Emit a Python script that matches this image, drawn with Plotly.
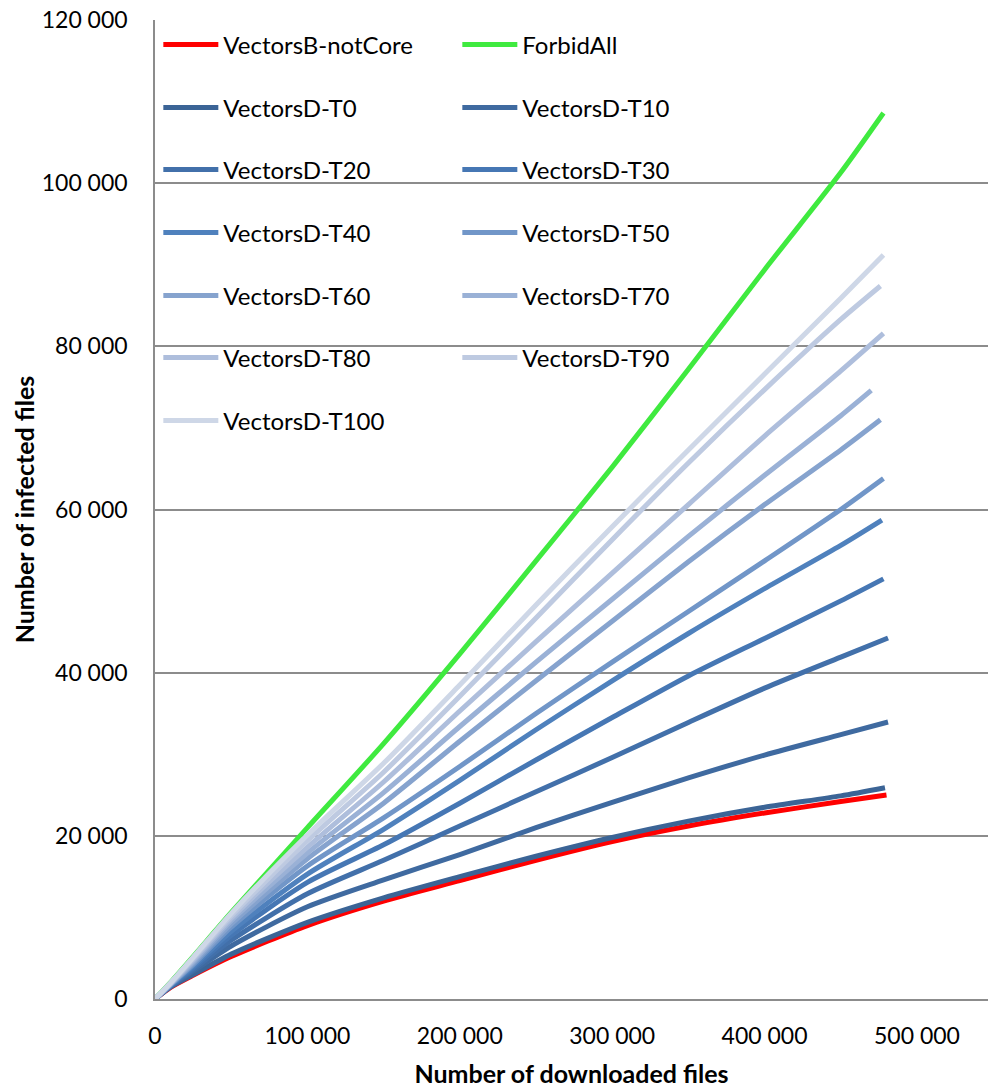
import plotly.graph_objects as go

# ---------------- data ----------------
downloaded = [0, 10000, 25000, 50000, 100000, 150000, 200000, 250000, 300000, 350000, 400000, 450000]

series_names = ["VectorsB-notCore", "ForbidAll", "VectorsD-T0", "VectorsD-T10", "VectorsD-T20",
                "VectorsD-T30", "VectorsD-T40", "VectorsD-T50", "VectorsD-T60", "VectorsD-T70",
                "VectorsD-T80", "VectorsD-T90", "VectorsD-T100"]

b_notcore = [0, 1400, 2900, 5200, 9000, 12000, 14500, 17000, 19300, 21200, 22800, 24200]
forbid_all = [0, 2000, 5200, 10600, 21000, 31300, 42300, 53700, 65200, 77200, 89400, 101300]
d_t0 = [0, 1450, 3000, 5500, 9400, 12400, 15000, 17500, 19800, 21800, 23500, 24900]
d_t10 = [0, 1500, 3400, 6500, 11300, 14600, 17700, 21000, 24100, 27100, 29900, 32400]
d_t20 = [0, 1550, 3600, 7200, 12900, 17000, 21200, 25400, 29600, 33900, 38100, 41900]
d_t30 = [0, 1600, 3800, 7800, 14300, 18900, 24000, 29300, 34500, 39600, 44200, 48800]
d_t40 = [0, 1650, 4000, 8300, 15300, 20800, 26800, 33000, 39000, 44800, 50300, 55600]
d_t50 = [0, 1700, 4200, 8800, 16300, 22200, 28500, 35000, 41300, 47500, 53700, 60000]
d_t60 = [0, 1750, 4400, 9200, 17200, 24000, 31600, 39000, 46300, 53600, 60600, 67300]
d_t70 = [0, 1800, 4600, 9600, 17900, 25300, 33400, 41300, 49000, 56700, 64200, 71500]
d_t80 = [0, 1850, 4800, 9900, 18600, 26600, 35300, 43800, 52200, 60600, 69000, 77000]
d_t90 = [0, 1900, 5000, 10200, 19400, 27800, 37100, 46700, 56300, 65700, 74700, 83300]
d_t100 = [0, 1950, 5100, 10500, 20100, 28900, 38500, 48300, 57900, 67300, 76600, 85900]

# last point of each series (downloaded, infected)
end_x = [480000, 478000, 479000, 481000, 481000, 478000, 477000, 478000, 476000, 470000, 478000, 476000, 478000]
end_y = [25000, 108600, 25900, 33950, 44250, 51500, 58700, 63800, 71000, 74600, 81600, 87400, 91200]

x_tickvals = [0, 100000, 200000, 300000, 400000, 500000]
x_ticktext = ["0", "100 000", "200 000", "300 000", "400 000", "500 000"]
y_tickvals = [0, 20000, 40000, 60000, 80000, 100000, 120000]
y_ticktext = ["0", "20 000", "40 000", "60 000", "80 000", "100 000", "120 000"]

# ---------------- styling ----------------
colors = ["#FF0000", "#3FEA3F", "#3B6496", "#3F6AA0", "#4270AA", "#4677B4", "#4F81BD",
          "#7196C8", "#86A3CE", "#9AB1D6", "#AEBEDC", "#BECAE1", "#CED7E7"]
values = [b_notcore, forbid_all, d_t0, d_t10, d_t20, d_t30, d_t40, d_t50, d_t60, d_t70,
          d_t80, d_t90, d_t100]

FONT = "Lato"
W, H = 988, 1088
ML, MR, MT, MB = 155, 0, 20, 89
plot_h = H - MT - MB

legend_rows_px = [45, 108, 170, 233, 296, 358, 421]

fig = go.Figure()
for i, (name, vals) in enumerate(zip(series_names, values)):
    row = i // 2
    lg = "legend" if row == 0 else f"legend{row + 1}"
    fig.add_trace(go.Scatter(
        x=downloaded + [end_x[i]], y=vals + [end_y[i]],
        mode="lines", name=name,
        line=dict(color=colors[i], width=5, shape="spline", smoothing=0.7),
        legend=lg, hoverinfo="skip",
    ))

layout_legends = {}
for r, ypx in enumerate(legend_rows_px):
    key = "legend" if r == 0 else f"legend{r + 1}"
    layout_legends[key] = dict(
        orientation="h",
        x=0.004, xanchor="left",
        y=(H - MB - ypx) / plot_h, yanchor="middle",
        bgcolor="rgba(0,0,0,0)",
        font=dict(family=FONT, size=24, color="#000000"),
        entrywidth=229, entrywidthmode="pixels",
        itemwidth=55,
        traceorder="normal",
    )

fig.update_layout(
    width=W, height=H,
    margin=dict(l=ML, r=MR, t=MT, b=MB),
    paper_bgcolor="white", plot_bgcolor="white",
    showlegend=True,
    font=dict(family=FONT, size=23, color="#000000"),
    **layout_legends,
)

fig.update_xaxes(
    range=[0, 546600],
    tickvals=x_tickvals, ticktext=x_ticktext,
    showgrid=False, zeroline=False,
    showline=True, linecolor="#8C8C8C", linewidth=1.5,
    ticks="outside", ticklen=16, tickcolor="rgba(0,0,0,0)",
    tickfont=dict(family=FONT, size=23),
    title=dict(text="<b>Number of downloaded files</b>", font=dict(family=FONT, size=25), standoff=19),
)
fig.update_yaxes(
    range=[0, 120000],
    tickvals=y_tickvals, ticktext=y_ticktext,
    showgrid=True, gridcolor="#8C8C8C", gridwidth=1.5,
    zeroline=False,
    showline=True, linecolor="#8C8C8C", linewidth=1.5,
    ticks="outside", ticklen=21, tickcolor="rgba(0,0,0,0)",
    tickfont=dict(family=FONT, size=23),
    title=dict(text="<b>Number of infected files</b>", font=dict(family=FONT, size=25), standoff=0),
)

fig.write_html("out.html")
